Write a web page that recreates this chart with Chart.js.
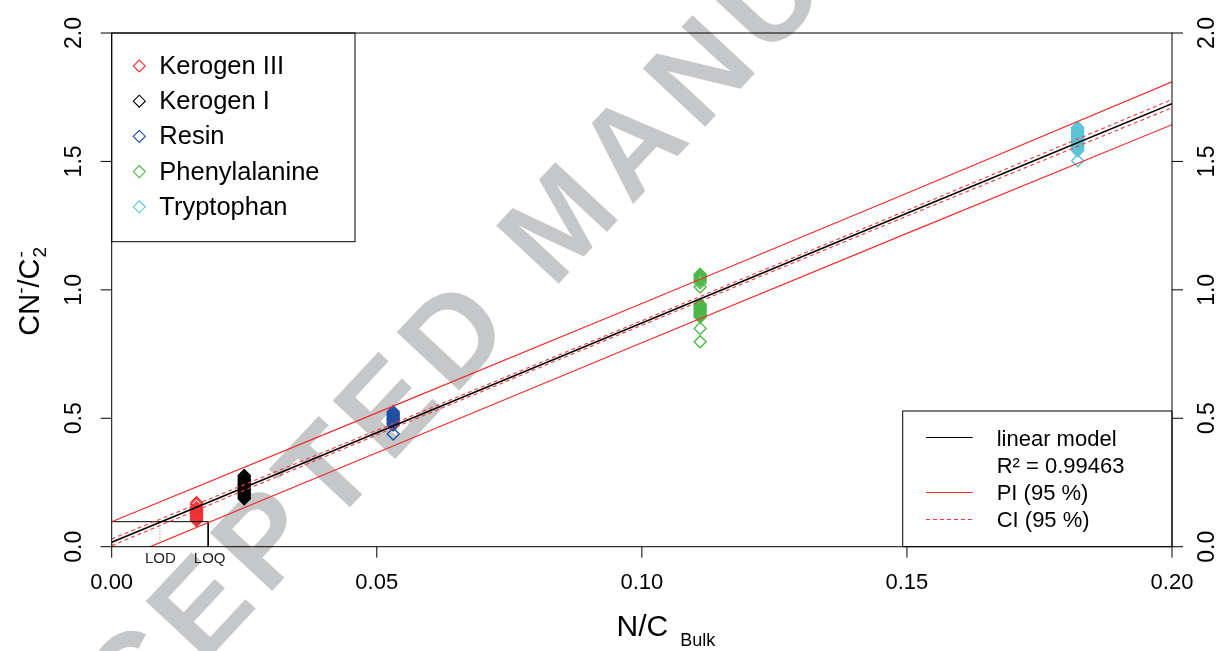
<!DOCTYPE html>
<html><head><meta charset="utf-8">
<script src="https://cdn.jsdelivr.net/npm/chart.js@4.4.0/dist/chart.umd.min.js"></script>
<style>html,body{margin:0;padding:0;background:#fff;overflow:hidden}canvas{display:block}</style>
</head><body>
<canvas id="c" width="1220" height="651"></canvas>
<script>
// ---------- data ----------
const xTicks = [0, 0.05, 0.10, 0.15, 0.20];
const xTickLabels = ['0.00', '0.05', '0.10', '0.15', '0.20'];
const yTicks = [0, 0.5, 1.0, 1.5, 2.0];
const yTickLabels = ['0.0', '0.5', '1.0', '1.5', '2.0'];

const groupNames = ['Kerogen III', 'Kerogen I', 'Resin', 'Phenylalanine', 'Tryptophan'];
const groupColors = ['#EE3333', '#000000', '#1F4FA0', '#4CB748', '#5BC3D6'];
const groupX = [0.0160, 0.0250, 0.0531, 0.1110, 0.1822];
const kerogenIII = [0.171, 0.164, 0.152, 0.147, 0.142, 0.137, 0.132, 0.127, 0.122, 0.117, 0.112, 0.107, 0.102];
const kerogenI = [0.277, 0.272, 0.267, 0.262, 0.257, 0.252, 0.247, 0.242, 0.237, 0.232, 0.227, 0.222, 0.217, 0.212, 0.207, 0.202, 0.197, 0.192, 0.187];
const resin = [0.525, 0.520, 0.515, 0.510, 0.505, 0.500, 0.495, 0.490, 0.485, 0.480, 0.474, 0.439];
const phenylalanine = [1.061, 1.056, 1.051, 1.046, 1.041, 1.036, 1.028, 1.011, 0.944, 0.939, 0.934, 0.929, 0.924, 0.919, 0.914, 0.909, 0.904, 0.899, 0.894, 0.850, 0.798];
const tryptophan = [1.632, 1.627, 1.622, 1.617, 1.612, 1.607, 1.602, 1.597, 1.592, 1.587, 1.582, 1.577, 1.572, 1.567, 1.562, 1.557, 1.552, 1.547, 1.542, 1.503];
const groupValues = [kerogenIII, kerogenI, resin, phenylalanine, tryptophan];

const fitX = [0, 0.05, 0.10, 0.15, 0.20];
const fitY = [0.017, 0.444, 0.871, 1.298, 1.725];
const piUpper = [0.097, 0.521, 0.947, 1.376, 1.810];
const piLower = [-0.062, 0.366, 0.794, 1.220, 1.643];
const ciUpper = [0.030, 0.453, 0.880, 1.309, 1.741];
const ciLower = [0.004, 0.435, 0.862, 1.287, 1.709];

const limitNames = ['LOD', 'LOQ'];
const limitX = [0.0091, 0.0182];
const limitY = [0.0974, 0.013];   // LOQ level, bottom of LOD dotted line

const modelLegend = ['linear model', 'R\u00b2 = 0.99463', 'PI (95 %)', 'CI (95 %)'];
const watermarkText = 'ACCEPTED MANUSCRIPT';

// ---------- build ----------
const FONT = '"Liberation Sans", Arial, Helvetica, sans-serif';
const pts = (xs, ys) => xs.map((x, i) => ({x, y: ys[i]}));
const datasets = [];
const lineDs = (data, color, width, dash, order) => ({
  data, showLine: true, borderColor: color, borderWidth: width, borderDash: dash || [],
  pointRadius: 0, pointHoverRadius: 0, fill: false, tension: 0, order
});
datasets.push(lineDs(pts(fitX, fitY), '#000000', 1.6, null, 0));
datasets.push(lineDs(pts(fitX, ciUpper), '#F23C3C', 1.1, [4, 3], 1));
datasets.push(lineDs(pts(fitX, ciLower), '#F23C3C', 1.1, [4, 3], 1));
datasets.push(lineDs(pts(fitX, piUpper), '#EE2C2C', 1.2, null, 1));
datasets.push(lineDs(pts(fitX, piLower), '#EE2C2C', 1.2, null, 1));
datasets.push(lineDs([{x: 0, y: limitY[0]}, {x: limitX[1], y: limitY[0]}, {x: limitX[1], y: 0}], '#000000', 1, null, 1));
datasets.push(lineDs([{x: limitX[0], y: limitY[0]}, {x: limitX[0], y: limitY[1]}], '#888888', 1, [1, 2], 1));
groupNames.forEach((name, g) => {
  datasets.push({
    label: name, data: groupValues[g].map(v => ({x: groupX[g], y: v})),
    pointStyle: 'rectRot', pointRadius: 6, pointHoverRadius: 6,
    borderColor: groupColors[g], backgroundColor: 'rgba(0,0,0,0)', borderWidth: 1.4,
    showLine: false, order: 2
  });
});

function diamond(ctx, x, y, r, color) {
  ctx.beginPath();
  ctx.moveTo(x - r, y); ctx.lineTo(x, y - r); ctx.lineTo(x + r, y); ctx.lineTo(x, y + r); ctx.closePath();
  ctx.strokeStyle = color; ctx.lineWidth = 1.1; ctx.stroke();
}

const custom = {
  id: 'custom',
  beforeDraw(chart) {
    const c = chart.ctx; c.save(); c.fillStyle = '#fff'; c.fillRect(0, 0, chart.width, chart.height); c.restore();
  },
  beforeDatasetsDraw(chart) {
    const c = chart.ctx; c.save();
    c.font = 'bold 124px ' + FONT; c.fillStyle = '#c6c7c9'; c.textBaseline = 'alphabetic';
    const spacing = 11, ang = -47 * Math.PI / 180, pivot = [556, 222], half = 44;
    const offs = []; let px = 0;
    for (const ch of watermarkText) { offs.push(px); px += c.measureText(ch).width + spacing; }
    const iM = watermarkText.indexOf('M');
    const sM = offs[iM] + c.measureText('M').width / 2;
    const u = [Math.cos(ang), Math.sin(ang)], n = [Math.sin(ang), -Math.cos(ang)];
    const ox = pivot[0] - sM * u[0] - half * n[0], oy = pivot[1] - sM * u[1] - half * n[1];
    c.translate(ox, oy); c.rotate(ang);
    [...watermarkText].forEach((ch, i) => c.fillText(ch, offs[i], 0));
    c.restore();
  },
  afterDatasetsDraw(chart) {
    const c = chart.ctx, a = chart.chartArea, xs = chart.scales.x, ys = chart.scales.y;
    c.save();
    c.strokeStyle = '#000'; c.lineWidth = 1; c.fillStyle = '#000';
    // box
    c.strokeRect(a.left, a.top, a.right - a.left, a.bottom - a.top);
    // ticks
    c.beginPath();
    xTicks.forEach(v => { const p = xs.getPixelForValue(v); c.moveTo(p, a.bottom); c.lineTo(p, a.bottom + 11); });
    yTicks.forEach(v => { const p = ys.getPixelForValue(v); c.moveTo(a.left - 11, p); c.lineTo(a.left, p); c.moveTo(a.right, p); c.lineTo(a.right + 11, p); });
    c.stroke();
    // x tick labels
    c.font = '22px ' + FONT; c.textAlign = 'center'; c.textBaseline = 'alphabetic';
    xTicks.forEach((v, i) => c.fillText(xTickLabels[i], xs.getPixelForValue(v), a.bottom + 42));
    // y tick labels both sides
    c.font = '23px ' + FONT; c.textBaseline = 'middle';
    yTicks.forEach((v, i) => {
      const p = ys.getPixelForValue(v);
      [a.left - 36.7, a.right + 36].forEach(xx => {
        c.save(); c.translate(xx, p); c.rotate(-Math.PI / 2); c.fillText(yTickLabels[i], 0, 0); c.restore();
      });
    });
    // LOD / LOQ labels
    c.font = '15px ' + FONT; c.fillStyle = '#222'; c.textBaseline = 'alphabetic';
    limitNames.forEach((n, i) => c.fillText(n, xs.getPixelForValue(limitX[i]) + (i ? 1.5 : 0.5), a.bottom + 16.6));
    c.fillStyle = '#000';
    // x title
    const cx = (a.left + a.right) / 2;
    c.textAlign = 'left';
    c.font = '30px ' + FONT;
    const wNC = c.measureText('N/C').width;
    c.fillText('N/C', cx + 0.6 - wNC / 2, 636);
    c.font = '18px ' + FONT;
    c.fillText('Bulk', cx + 0.6 + wNC / 2 + 12, 646);
    // y title (rotated)
    const cy = (a.top + a.bottom) / 2;
    c.save(); c.translate(39, cy + 1); c.rotate(-Math.PI / 2);
    const big = '29px ' + FONT, small = '19px ' + FONT;
    c.font = big; const w1 = c.measureText('CN').width, w3 = c.measureText('/C').width;
    c.font = small; const w2 = c.measureText('-').width, w4 = c.measureText('2').width;
    const tot = w1 + w2 + w3 + Math.max(w2, w4) + 2;
    let x0 = -tot / 2;
    c.textAlign = 'left';
    c.font = big; c.fillText('CN', x0, 0); x0 += w1;
    c.font = small; c.fillText('-', x0, -12); x0 += w2;
    c.font = big; c.fillText('/C', x0, 0); x0 += w3 + 1;
    c.font = small; c.fillText('-', x0, -12); c.fillText('2', x0, 7);
    c.restore();

    // top-left legend
    c.lineWidth = 1; c.strokeStyle = '#000';
    c.strokeRect(a.left, a.top, 355 - a.left, 241.7 - a.top);
    c.font = '25.5px ' + FONT; c.textBaseline = 'middle'; c.textAlign = 'left';
    groupNames.forEach((n, i) => {
      const yy = 66 + i * 35.2;
      diamond(c, 139.3, yy, 6, groupColors[i]);
      c.fillStyle = '#000'; c.fillText(n, 159.3, yy + 1);
    });
    // bottom-right legend
    c.strokeStyle = '#000'; c.lineWidth = 1;
    c.strokeRect(902.7, 411, a.right - 902.7, a.bottom - 411);
    c.font = '22px ' + FONT;
    modelLegend.forEach((t, i) => {
      const yy = 438.8 + i * 27.2;
      c.fillStyle = '#000'; c.fillText(t, 996.7, yy + 1);
    });
    c.lineWidth = 1;
    c.beginPath(); c.strokeStyle = '#000'; c.moveTo(926, 437.5); c.lineTo(972.7, 437.5); c.stroke();
    c.beginPath(); c.strokeStyle = '#EE2C2C'; c.moveTo(926, 492.5); c.lineTo(972.7, 492.5); c.stroke();
    c.beginPath(); c.strokeStyle = '#F23C3C'; c.setLineDash([4, 3]); c.moveTo(926, 519.5); c.lineTo(972.7, 519.5); c.stroke();
    c.setLineDash([]);
    c.restore();
  }
};

new Chart(document.getElementById('c'), {
  type: 'scatter',
  data: {datasets},
  options: {
    responsive: false, animation: false, devicePixelRatio: 1,
    layout: {padding: {left: 111.7, right: 48, top: 33, bottom: 104.3}},
    plugins: {legend: {display: false}, tooltip: {enabled: false}},
    events: [],
    scales: {
      x: {type: 'linear', min: 0, max: 0.2, display: false},
      y: {type: 'linear', min: 0, max: 2, display: false}
    }
  },
  plugins: [custom]
});
</script>
</body></html>
